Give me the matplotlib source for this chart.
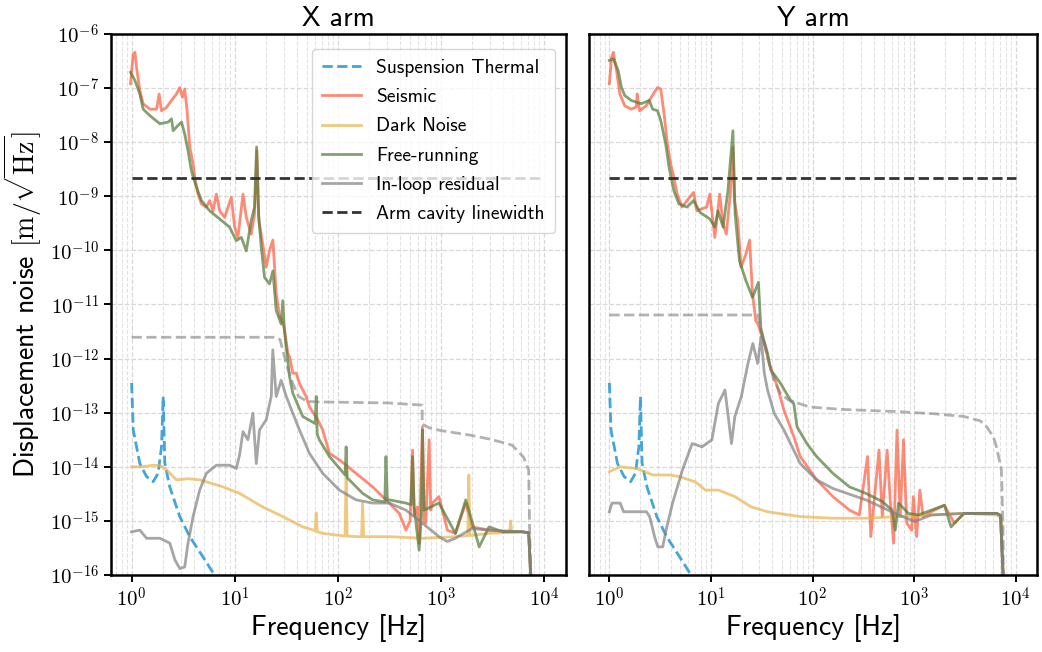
import numpy as np
import matplotlib
matplotlib.use("Agg")
import matplotlib.pyplot as plt
from matplotlib.ticker import LogLocator, NullLocator, FuncFormatter

plt.rcParams['mathtext.fontset'] = 'cm'
plt.rcParams['font.family'] = ['cmss10', 'DejaVu Sans']
plt.rcParams['axes.unicode_minus'] = False

# all curves stored as (log10 frequency [Hz], log10 displacement [m/rtHz])
# ---- X arm ----
susp_f = [0, 0.016, 0.08, 0.145, 0.209, 0.257, 0.29, 0.306, 0.322, 0.37, 0.467, 0.564, 0.69, 0.774, 0.82]
susp_v = [-12.45, -13.32, -13.94, -14.18, -14.275, -14.12, -13.63, -12.70, -13.93, -14.37, -14.92, -15.29, -15.66, -15.91, -16.05]

seis_x_f = [-0.01, 0, 0.016, 0.032, 0.048, 0.08, 0.112, 0.177, 0.242, 0.267, 0.29, 0.338, 0.387, 0.435, 0.467,
            0.493, 0.515, 0.538, 0.564, 0.596, 0.612, 0.644, 0.677, 0.725, 0.757, 0.789, 0.822, 0.854, 0.902,
            0.967, 0.999, 1.031, 1.08, 1.112, 1.16, 1.192, 1.215, 1.234, 1.273, 1.305, 1.337, 1.37, 1.402,
            1.434, 1.466, 1.483, 1.515, 1.531, 1.563, 1.596, 1.628, 1.692, 1.724, 1.805, 1.853, 1.918, 2.015,
            2.176, 2.337, 2.498, 2.595, 2.66, 2.70, 2.724, 2.74, 2.772, 2.788, 2.82, 2.837, 2.853, 2.885, 2.90,
            2.917, 2.98, 3.013, 3.062, 3.14, 3.24, 3.30, 3.465, 3.6, 3.787, 3.85, 3.87]
seis_x_v = [-6.92, -6.68, -6.37, -6.34, -6.62, -7.05, -7.29, -7.39, -7.39, -7.11, -7.42, -7.36, -7.23, -7.11, -6.99,
            -7.17, -7.02, -7.42, -8.09, -8.40, -8.65, -8.96, -9.14, -9.20, -9.08, -9.27, -8.96, -9.27, -9.39,
            -9.02, -9.57, -9.76, -8.96, -9.39, -9.70, -9.33, -8.16, -9.45, -9.90, -10.31, -10.0, -9.81, -10.8,
            -11.2, -11.35, -11.47, -11.90, -11.96, -12.27, -12.27, -12.46, -12.70, -12.89, -13.13, -13.32, -13.75, -13.87,
            -14.12, -14.37, -14.67, -14.86, -15.17, -15.0, -13.69, -14.9, -14.74, -15.41, -13.26, -15.0, -15.04, -13.50, -14.8,
            -14.67, -14.55, -14.80, -15.17, -15.23, -14.67, -15.11, -15.17, -15.2, -15.2, -15.22, -16.0]

dark_x_f = [0, 0.1, 0.209, 0.28, 0.34, 0.435, 0.55, 0.66, 0.886, 1.047, 1.27, 1.466, 1.66, 1.78, 1.79, 1.80, 1.853,
            2.07, 2.08, 2.09, 2.176, 2.23, 2.24, 2.25, 2.498, 2.82, 3.14, 3.26, 3.27, 3.28, 3.465, 3.665, 3.675, 3.685,
            3.787, 3.85, 3.87]
dark_x_v = [-14.0, -14.0, -13.97, -13.98, -14.06, -14.24, -14.22, -14.24, -14.37, -14.49, -14.74, -14.92, -15.11, -15.18,
            -14.85, -15.2, -15.23, -15.28, -14.0, -15.28, -15.29, -15.29, -14.67, -15.29, -15.29, -15.32, -15.29, -15.27,
            -14.15, -15.27, -15.23, -15.21, -15.0, -15.21, -15.2, -15.22, -16.0]

free_x_f = [-0.01, 0.032, 0.08, 0.112, 0.177, 0.274, 0.354, 0.387, 0.403, 0.435, 0.484, 0.515, 0.547, 0.58, 0.628,
            0.677, 0.757, 0.854, 0.95, 1.015, 1.064, 1.112, 1.16, 1.192, 1.212, 1.231, 1.257, 1.289, 1.337, 1.37,
            1.402, 1.45, 1.466, 1.483, 1.531, 1.563, 1.66, 1.78, 1.79, 1.80, 1.82, 1.918, 2.07, 2.08, 2.09, 2.24,
            2.337, 2.455, 2.466, 2.48, 2.498, 2.66, 2.71, 2.724, 2.74, 2.788, 2.81, 2.82, 2.835, 2.98, 3.14, 3.24,
            3.30, 3.37, 3.465, 3.6, 3.787, 3.85, 3.87]
free_x_v = [-6.71, -6.86, -7.11, -7.39, -7.51, -7.66, -7.63, -7.57, -7.79, -7.72, -7.63, -7.85, -8.16, -8.53, -8.83,
            -9.08, -9.27, -9.42, -9.57, -9.82, -9.76, -10.01, -9.45, -9.20, -8.09, -9.33, -9.94, -10.50, -10.62, -10.38,
            -11.11, -11.36, -10.93, -11.51, -12.33, -12.64, -13.07, -13.2, -12.70, -13.4, -13.50, -13.81, -14.15, -13.63,
            -14.2, -14.49, -14.61, -14.65, -13.81, -14.62, -14.61, -14.67, -14.7, -13.81, -14.75, -15.54, -14.9, -13.32,
            -14.8, -14.67, -15.23, -14.61, -15.0, -15.48, -15.11, -15.2, -15.2, -15.22, -16.0]

loop_x_f = [0, 0.08, 0.145, 0.274, 0.37, 0.42, 0.467, 0.515, 0.547, 0.596, 0.66, 0.725, 0.822, 0.95, 1.015, 1.047,
            1.08, 1.128, 1.176, 1.209, 1.24, 1.305, 1.354, 1.369, 1.402, 1.45, 1.50, 1.563, 1.628, 1.724, 1.853,
            2.015, 2.176, 2.337, 2.498, 2.66, 2.82, 2.98, 3.06, 3.14, 3.30, 3.465, 3.787, 3.85, 3.87]
loop_x_v = [-15.2, -15.17, -15.32, -15.32, -15.41, -15.72, -15.88, -15.85, -15.41, -14.92, -14.43, -14.12, -13.97,
            -13.97, -14.03, -13.78, -13.35, -13.50, -13.01, -13.94, -13.32, -13.13, -12.70, -11.84, -12.70, -12.40,
            -12.70, -13.01, -13.32, -13.75, -14.12, -14.43, -14.61, -14.67, -14.67, -14.80, -15.04, -15.29, -15.38,
            -15.32, -15.14, -15.17, -15.2, -15.22, -16.0]

req_x_f = [0, 1.40, 1.44, 1.50, 1.56, 1.62, 1.70, 1.80, 2.5, 2.817, 2.818, 2.886, 3.0, 3.3, 3.5, 3.69, 3.80, 3.85,
           3.86, 3.87]
req_x_v = [-11.606, -11.606, -11.65, -12.1, -12.45, -12.70, -12.79, -12.80, -12.82, -12.86, -13.21, -13.28, -13.33,
           -13.42, -13.50, -13.60, -13.82, -14.06, -15.17, -16.0]

# ---- Y arm ----
seis_y_f = [0, 0.022, 0.039, 0.071, 0.103, 0.152, 0.216, 0.265, 0.274, 0.297, 0.361, 0.442, 0.474, 0.506, 0.539,
            0.571, 0.603, 0.635, 0.667, 0.716, 0.764, 0.829, 0.861, 0.957, 0.989, 1.038, 1.086, 1.119, 1.151, 1.19,
            1.216, 1.231, 1.264, 1.296, 1.344, 1.38, 1.409, 1.441, 1.46, 1.489, 1.525, 1.573, 1.654, 1.718, 1.815,
            1.879, 2.04, 2.2, 2.363, 2.46, 2.541, 2.573, 2.654, 2.686, 2.734, 2.766, 2.798, 2.831, 2.863, 2.895,
            2.927, 2.976, 2.992, 3.024, 3.056, 3.088, 3.169, 3.298, 3.395, 3.491, 3.813, 3.85, 3.875]
seis_y_v = [-6.92, -6.43, -6.34, -6.68, -7.11, -7.33, -7.39, -7.35, -7.11, -7.42, -7.33, -7.08, -6.99, -7.02, -7.48,
            -8.03, -8.40, -8.65, -8.96, -9.20, -9.08, -8.93, -9.27, -9.20, -8.96, -9.76, -8.96, -9.51, -9.70, -8.96,
            -8.09, -9.08, -9.45, -10.31, -10.07, -9.81, -10.81, -11.30, -11.35, -11.51, -11.72, -12.09, -12.52, -12.95,
            -13.44, -13.81, -14.24, -14.55, -14.80, -14.89, -13.81, -15.29, -13.69, -14.92, -13.69, -14.67, -15.41,
            -13.32, -14.92, -13.50, -15.04, -15.17, -14.55, -15.29, -14.43, -14.92, -14.83, -14.71, -15.04, -14.86,
            -14.86, -14.9, -16.0]

dark_y_f = [0, 0.106, 0.268, 0.428, 0.59, 0.687, 0.848, 0.945, 1.073, 1.235, 1.396, 1.557, 1.879, 2.2, 2.524,
            2.846, 3.169, 3.491, 3.813, 3.86, 3.875]
dark_y_v = [-14.09, -14.0, -14.03, -14.15, -14.15, -14.18, -14.28, -14.43, -14.43, -14.55, -14.74, -14.83, -14.92,
            -14.95, -14.95, -14.92, -14.89, -14.86, -14.89, -14.95, -16.0]

free_y_f = [0, 0.039, 0.087, 0.119, 0.152, 0.216, 0.312, 0.393, 0.426, 0.474, 0.506, 0.554, 0.587, 0.635, 0.684,
            0.764, 0.829, 0.893, 0.989, 1.038, 1.07, 1.119, 1.167, 1.216, 1.238, 1.28, 1.344, 1.409, 1.467, 1.492,
            1.557, 1.589, 1.686, 1.782, 1.815, 1.847, 1.944, 2.04, 2.2, 2.363, 2.524, 2.686, 2.782, 2.814, 2.846,
            2.943, 3.04, 3.169, 3.298, 3.363, 3.49, 3.813, 3.85, 3.875]
free_y_v = [-6.49, -6.46, -6.68, -6.99, -7.14, -7.23, -7.29, -7.23, -7.39, -7.42, -7.60, -8.03, -8.46, -8.90, -9.14,
            -9.20, -9.08, -9.30, -9.42, -9.57, -9.27, -9.57, -8.90, -7.79, -9.33, -10.19, -10.56, -10.87, -10.59,
            -11.47, -11.9, -12.21, -12.46, -12.77, -12.83, -13.26, -13.57, -13.81, -14.12, -14.37, -14.49, -14.64,
            -14.80, -15.17, -14.67, -14.86, -14.89, -14.80, -14.71, -15.11, -14.86, -14.86, -14.9, -16.0]

loop_y_f = [0, 0.026, 0.106, 0.14, 0.365, 0.397, 0.445, 0.477, 0.525, 0.558, 0.622, 0.719, 0.815, 0.912, 1.009,
            1.073, 1.138, 1.17, 1.202, 1.235, 1.299, 1.364, 1.412, 1.46, 1.493, 1.525, 1.557, 1.622, 1.718, 1.879,
            2.04, 2.2, 2.524, 2.846, 3.008, 3.169, 3.49, 3.813, 3.85, 3.875]
loop_y_v = [-14.83, -14.67, -14.67, -14.83, -14.83, -14.92, -15.29, -15.48, -15.48, -15.17, -14.67, -14.06, -13.57,
            -13.63, -13.50, -12.83, -12.58, -13.07, -13.57, -13.07, -12.70, -12.09, -11.72, -12.09, -11.60, -12.27,
            -12.58, -13.01, -13.32, -13.94, -14.24, -14.40, -14.61, -14.89, -15.01, -14.89, -14.86, -14.86, -14.9, -16.0]

req_y_f = [0, 1.46, 1.50, 1.56, 1.62, 1.683, 1.76, 1.85, 1.973, 2.3, 2.843, 3.2, 3.49, 3.65, 3.714, 3.78, 3.81,
           3.859, 3.875, 3.878]
req_y_v = [-11.194, -11.194, -11.5, -12.0, -12.4, -12.64, -12.76, -12.82, -12.895, -12.94, -12.98, -13.02, -13.07,
           -13.15, -13.26, -13.45, -13.63, -14.06, -15.17, -16.0]

linewidth_f = [1, 1e4]
linewidth_v = [2.2e-9, 2.2e-9]

arms = [
    ("X arm", seis_x_f, seis_x_v, dark_x_f, dark_x_v, free_x_f, free_x_v, loop_x_f, loop_x_v, req_x_f, req_x_v),
    ("Y arm", seis_y_f, seis_y_v, dark_y_f, dark_y_v, free_y_f, free_y_v, loop_y_f, loop_y_v, req_y_f, req_y_v),
]


def p(a):
    return 10 ** np.asarray(a, dtype=float)


def pow10(val, pos):
    return r'$10^{%d}$' % int(round(np.log10(val)))


fig = plt.figure(figsize=(10.42, 6.52), dpi=100)
ax1 = fig.add_axes([0.1065, 0.118, 0.4365, 0.830])
ax2 = fig.add_axes([0.5653, 0.118, 0.4300, 0.830], sharey=ax1)

lw = 2.0
for ax, (title, sf, sv, df, dv, ff, fv, lf, lv, rf, rv) in zip([ax1, ax2], arms):
    ax.plot(p(susp_f), p(susp_v), '--', color='#2e9bd6', alpha=0.9, lw=lw, label='Suspension Thermal')
    ax.plot(p(sf), p(sv), '-', color='tomato', alpha=0.75, lw=lw, label='Seismic')
    ax.plot(p(df), p(dv), '-', color='#e8b34a', alpha=0.7, lw=lw, label='Dark Noise')
    ax.plot(p(ff), p(fv), '-', color='#547d3a', alpha=0.72, lw=lw, label='Free-running')
    ax.plot(p(lf), p(lv), '-', color='gray', alpha=0.7, lw=lw, label='In-loop residual')
    ax.plot(p(rf), p(rv), '--', color='gray', alpha=0.6, lw=lw)
    ax.plot(linewidth_f, linewidth_v, '--', color='#333333', lw=lw, label='Arm cavity linewidth')

    ax.set_xscale('log')
    ax.set_yscale('log')
    ax.set_xlim(10 ** -0.2, 10 ** 4.21)
    ax.set_ylim(1e-16, 1e-6)
    ax.yaxis.set_major_locator(LogLocator(base=10, numticks=20))
    ax.yaxis.set_minor_locator(NullLocator())
    ax.xaxis.set_minor_locator(LogLocator(base=10, subs=np.arange(2, 10), numticks=20))
    ax.xaxis.set_major_formatter(FuncFormatter(pow10))
    ax.yaxis.set_major_formatter(FuncFormatter(pow10))
    ax.grid(True, which='major', ls='--', color='#d8d8d8', lw=0.9)
    ax.grid(True, which='minor', axis='x', ls='--', color='#e2e2e2', lw=0.8)
    ax.set_axisbelow(True)
    for s in ax.spines.values():
        s.set_linewidth(1.8)
    ax.tick_params(which='major', length=5, width=1.4, labelsize=15)
    ax.tick_params(which='minor', length=0)
    ax.set_title(title, fontsize=20, pad=6)
    ax.set_xlabel('Frequency [Hz]', fontsize=20, labelpad=2)

ax2.tick_params(axis='y', which='both', length=0, labelleft=False)
ax1.set_ylabel(r'Displacement noise $[\mathrm{m}/\sqrt{\mathrm{Hz}}]$', fontsize=20, labelpad=4)
ax1.legend(loc='upper right', fontsize=14, framealpha=0.8, labelspacing=0.58,
           handlelength=2.0, borderpad=0.5, bbox_to_anchor=(0.997, 0.99))

fig.savefig('out.png', dpi=100)
